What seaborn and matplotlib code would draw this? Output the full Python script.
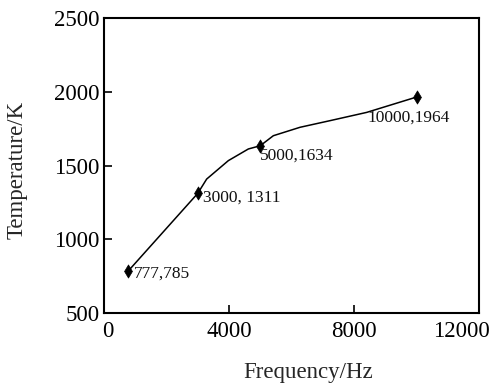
import matplotlib
matplotlib.use("Agg")
import matplotlib.pyplot as plt
import matplotlib.transforms as mtransforms
import seaborn as sns
import pandas as pd

# measured points (labelled)
freq_pts = [777, 3000, 5000, 10000]
temp_pts = [785, 1311, 1634, 1964]
pt_labels = ["777,785", "3000, 1311", "5000,1634", "10000,1964"]

# curve
curve_freq = [777, 3000, 3285, 3979, 4619, 5000, 5419, 6272, 7232, 8405, 10000]
curve_temp = [785, 1311, 1408, 1533, 1612, 1634, 1702, 1759, 1804, 1860, 1964]

x_ticks = [0, 4000, 8000, 12000]
y_ticks = [500, 1000, 1500, 2000, 2500]

sns.set_theme(style="white")
plt.rcParams["font.family"] = ["Liberation Serif", "DejaVu Serif"]

fig = plt.figure(figsize=(4.91, 3.87), dpi=100)
ax = fig.add_axes([0.2118, 0.1912, 0.9756 - 0.2118, 0.9535 - 0.1912])

curve = pd.DataFrame({"f": curve_freq, "t": curve_temp})
pts = pd.DataFrame({"f": freq_pts, "t": temp_pts})
sns.lineplot(data=curve, x="f", y="t", ax=ax, color="black", lw=1.1, sort=False)
sns.scatterplot(data=pts, x="f", y="t", ax=ax, marker="d", s=45, color="black",
                edgecolor="black", linewidth=0.5, zorder=3)

offsets = [(4, -2), (4, -3), (0, -7), (-35, -15)]
for fx, ty, lab, off in zip(freq_pts, temp_pts, pt_labels, offsets):
    ax.annotate(lab, (fx, ty), xytext=off, textcoords="offset points",
                ha="left", va="center", fontsize=12.5, color="#111111")

ax.set_xlim(0, 12000)
ax.set_ylim(500, 2500)
ax.set_xticks(x_ticks)
ax.set_yticks(y_ticks)
ax.set_xticklabels([str(v) for v in x_ticks])
ax.set_yticklabels([str(v) for v in y_ticks])
ax.tick_params(direction="in", length=5.5, width=1.2, labelsize=16.5, colors="black",
               left=True, bottom=True)
ax.tick_params(axis="x", pad=6)
ax.tick_params(axis="y", pad=3)
for s in ax.spines.values():
    s.set_visible(True)
    s.set_color("black")
    s.set_linewidth(1.5)
ax.set_xlabel("Frequency/Hz", fontsize=16.5)
ax.set_ylabel("Temperature/K", fontsize=16.5)
ax.xaxis.set_label_coords(0.544, -0.166)
ax.yaxis.set_label_coords(-0.203, 0.485)
ax.grid(False)

# nudge the first and last x tick labels as in the reference
xlabels = ax.get_xticklabels()
xlabels[0].set_transform(xlabels[0].get_transform() +
                         mtransforms.ScaledTranslation(4 / 100, 0, fig.dpi_scale_trans))
xlabels[-1].set_transform(xlabels[-1].get_transform() +
                          mtransforms.ScaledTranslation(-18 / 100, 0, fig.dpi_scale_trans))

fig.savefig("out.png", dpi=100)
